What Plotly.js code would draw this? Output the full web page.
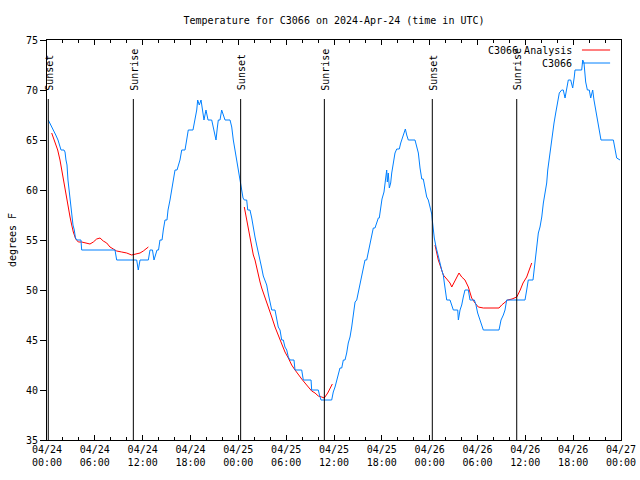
<!DOCTYPE html>
<html>
<head>
<meta charset="utf-8">
<script src="https://cdn.plot.ly/plotly-3.0.1.min.js"></script>
<style>html,body{margin:0;padding:0;background:#fff}#chart{width:640px;height:480px}</style>
</head>
<body>
<div id="chart"></div>
<script>
// Hours since 2024-04-24 00:00 UTC
const blueHours = [0.16,0.50,0.79,1.10,1.38,1.76,2.13,2.26,2.38,2.51,2.63,2.76,2.89,3.01,3.14,3.26,3.42,3.57,3.76,4.26,4.35,8.53,8.74,11.25,11.45,11.67,12.71,12.92,13.23,13.42,13.80,13.99,14.17,14.43,14.59,14.80,15.05,15.18,15.43,15.64,15.84,16.06,16.31,16.68,16.90,17.31,17.52,17.72,18.31,18.57,18.78,18.90,19.10,19.32,19.53,19.69,19.94,20.20,20.66,20.86,21.07,21.20,21.36,21.49,21.70,21.91,22.12,22.33,22.96,23.17,23.37,23.58,23.80,24.00,24.21,24.42,24.59,24.75,25.05,25.18,25.46,25.68,25.88,26.09,26.30,26.51,26.72,26.93,27.13,27.35,27.56,27.76,27.97,28.19,28.60,28.82,29.01,29.23,29.44,29.64,29.85,30.07,30.27,30.48,30.98,31.11,31.95,32.15,33.12,33.20,34.03,34.18,34.37,35.71,35.91,36.13,36.34,36.54,36.75,36.97,37.17,37.38,37.59,37.79,38.01,38.22,38.42,38.64,38.85,39.05,39.26,39.47,39.68,39.89,40.10,40.30,40.52,40.73,40.93,41.14,41.36,41.56,41.68,41.86,42.02,42.27,42.40,42.61,42.69,42.81,42.94,43.11,43.24,43.44,43.65,43.87,44.19,44.37,44.57,44.78,44.95,45.12,45.32,46.16,46.37,46.58,46.79,47.01,47.20,47.42,47.63,47.83,48.04,48.26,48.33,48.58,48.80,49.01,49.30,49.51,49.71,49.84,50.01,50.14,50.55,50.77,50.97,51.52,51.60,51.81,52.02,52.22,52.43,52.85,53.06,53.60,53.78,54.02,54.31,54.53,54.73,56.70,56.95,57.24,57.45,57.66,59.96,60.17,60.37,60.96,61.21,61.43,61.63,61.84,62.06,62.26,62.47,62.68,62.81,63.01,63.22,63.38,63.60,63.81,64.01,64.26,64.56,64.76,64.98,65.19,65.39,65.69,65.94,66.14,66.23,67.07,67.20,67.36,67.57,67.78,68.02,68.20,68.45,68.61,68.83,69.03,69.28,69.49,71.04,71.25,71.46,71.88];
const blueTemps = [67,66.5,66,65.5,65,64,64,63.8,63,62.5,61,60,59.5,58.5,57.5,56.5,56,55.2,55,55,54,54,53,53,52,53,53,54,54,53,54,54,55,55,56,57,57,58,59,60,61,62,62,63,64,64,65,66,66,67,68,69,68.5,69,68,67,68,67,67,66.3,65.7,65,66.2,67,67,68,67.5,67,67,66.3,65,64,63.3,62.3,61,60,59.2,59,59,58,58,57.2,56.1,55.3,54.5,53.6,53,52.2,51.4,51,50.5,49.6,48.7,48,48,47,46.3,46,45,45,44.3,44,43.3,43,43,42,42,41,41,40,40,39.5,39,39,39.8,40.3,41,41.7,42.2,42.2,43,43,43.7,44.7,45.3,46.3,47.3,48.8,49,49.8,50.7,51.5,52.3,53,53,53.7,54.7,55.5,56.2,56.2,56.8,57.2,57.2,58.5,59.1,59.8,60.8,62,60.8,61.7,60.2,60.7,61.7,62.7,63.7,64.1,64.1,64.7,65.2,65.7,66.1,65.5,65,65,64.3,63.7,62.2,61.1,61.1,60.3,59.3,59,58.3,57.6,57,55.2,54.3,53.7,52.7,52,51.5,50.7,49.8,49,49,48.5,48,48,47,48,48.5,49.3,50,50,49,49,48.6,47.7,47,46.7,46,46,47,47.5,48,49,49,50,51,51,53,54.7,55.7,56.3,57.3,58.7,59.7,60.7,62,63.3,64.7,65.7,66.7,67.7,68.7,69.7,70,70,69.2,70,71,71,70.2,71.3,72,72,73,72.7,70.8,70,70,69.2,70,69,68,67,66,65,65,64.2,63.2,63];

// Analysis series (null breaks the line between nights)
const redHours = [0.59,1.00,1.34,1.63,1.84,2.04,2.26,2.47,2.67,2.89,3.10,3.30,3.60,3.93,4.35,4.77,5.39,5.81,6.23,6.65,7.06,7.49,7.90,8.32,8.74,9.37,10.00,10.62,11.04,11.67,12.08,12.71,
  18.0,
  24.75,25.05,25.25,25.46,25.68,25.88,26.09,26.30,26.51,26.72,26.93,27.13,27.35,27.56,27.76,28.19,28.60,29.01,29.44,29.85,30.27,30.69,31.11,31.52,31.95,32.36,32.78,33.20,33.62,34.03,34.46,34.78,35.21,35.50,35.79,
  42.0,
  48.67,48.88,49.08,49.30,49.51,49.71,50.14,50.55,50.77,51.18,51.68,52.02,52.43,52.85,53.06,53.27,53.69,54.10,54.73,56.70,57.03,57.45,57.79,58.33,58.92,59.36,59.71,60.17,60.59,60.80];
const redTemps = [65.7,64.8,64,63,62,61,60,59,58.2,57.3,56.5,55.8,55.1,54.8,54.8,54.7,54.6,54.8,55.1,55.2,54.9,54.7,54.3,54.1,53.9,53.8,53.7,53.5,53.6,53.7,53.9,54.3,
  null,
  58.3,57,56.2,55.2,54.3,53.5,53,52.2,51.5,50.8,50.2,49.7,49.3,48.8,48.3,47.3,46.3,45.5,44.7,43.8,43.2,42.5,42,41.5,41.1,40.7,40.3,39.9,39.7,39.4,39.3,39.2,39.7,40.1,40.6,
  null,
  54.5,53.7,53,52.5,52,51.5,51.1,50.7,50.3,51,51.7,51.3,51,50.3,49.7,49.2,48.7,48.3,48.2,48.2,48.5,48.8,49,49.1,49.3,50,50.7,51.3,52.2,52.7];

const sunHours = [0.16, 10.83, 24.29, 34.79, 48.33, 58.92];
const sunLabels = ["Sunset","Sunrise","Sunset","Sunrise","Sunset","Sunrise"];

const seriesNames = ["C3066 Analysis", "C3066"];
const seriesColors = ["#ff0000", "#0080ff"];
const yTicks = [35,40,45,50,55,60,65,70,75];

const BASE = Date.UTC(2024, 3, 24, 0, 0, 0);
function pad(n){return (n<10?'0':'')+n;}
function toDate(h){
  const d = new Date(BASE + Math.round(h*3600000));
  return d.getUTCFullYear()+'-'+pad(d.getUTCMonth()+1)+'-'+pad(d.getUTCDate())+' '+pad(d.getUTCHours())+':'+pad(d.getUTCMinutes())+':'+pad(d.getUTCSeconds());
}

const font = {family: '"DejaVu Sans Mono", "Liberation Mono", monospace', size: 10, color: '#000'};

const traces = [
  {x: redHours.map(toDate), y: redTemps, type: 'scatter', mode: 'lines', name: seriesNames[0],
   line: {color: seriesColors[0], width: 1}, connectgaps: false, showlegend: false},
  {x: blueHours.map(toDate), y: blueTemps, type: 'scatter', mode: 'lines', name: seriesNames[1],
   line: {color: seriesColors[1], width: 1}, showlegend: false}
];

const shapes = sunHours.map(h => ({type: 'line', xref: 'x', yref: 'y', x0: toDate(h), x1: toDate(h), y0: 35, y1: 69.1,
  line: {color: '#000', width: 1}}));
const annotations = sunHours.map((h, i) => ({xref: 'x', yref: 'y', x: toDate(h), y: 69.75, yanchor: 'bottom', xanchor: 'center',
  text: sunLabels[i], textangle: -90, showarrow: false, font: font, xshift: 1}));

// legend (text right-aligned, line sample to the right)
const legY = [0.975, 0.9425];
seriesNames.forEach((n, i) => {
  annotations.push({xref: 'paper', yref: 'paper', x: 0.918, y: legY[i], xanchor: 'right', yanchor: 'middle',
    text: n, showarrow: false, font: font});
  shapes.push({type: 'line', xref: 'paper', yref: 'paper', x0: 0.932, x1: 0.981, y0: legY[i], y1: legY[i],
    line: {color: seriesColors[i], width: 1}});
});

const layout = {
  width: 640, height: 480,
  margin: {l: 47, r: 19, t: 40, b: 40},
  paper_bgcolor: '#fff', plot_bgcolor: '#fff',
  font: font,
  title: {text: 'Temperature for C3066 on 2024-Apr-24 (time in UTC)', font: font,
    x: 0.5, xref: 'paper', xanchor: 'center', y: 1 - 20/480, yref: 'container', yanchor: 'middle'},
  xaxis: {type: 'date', range: [toDate(0), toDate(72)], tick0: toDate(0), dtick: 6*3600000,
    tickformat: '%m/%d<br>%H:%M', ticks: 'inside', ticklen: 5, tickcolor: '#000',
    minor: {dtick: 2*3600000, ticks: 'inside', ticklen: 3, tickcolor: '#000'},
    showline: true, linecolor: '#000', linewidth: 1, mirror: 'ticks', showgrid: false, zeroline: false,
    tickfont: font, fixedrange: true},
  yaxis: {range: [35, 75], tickvals: yTicks, ticks: 'outside', ticklen: 6, tickcolor: '#000',
    showline: true, linecolor: '#000', linewidth: 1, mirror: true, showgrid: false, zeroline: false,
    tickfont: font, title: {text: 'degrees F', font: font, standoff: 7}, fixedrange: true},
  yaxis2: {range: [35, 75], tickvals: yTicks, overlaying: 'y', side: 'right', ticks: 'inside', ticklen: 5,
    tickcolor: '#000', showticklabels: false, showline: false, showgrid: false, zeroline: false, fixedrange: true},
  shapes: shapes,
  annotations: annotations
};

Plotly.newPlot('chart', traces, layout, {staticPlot: true});
</script>
</body>
</html>
